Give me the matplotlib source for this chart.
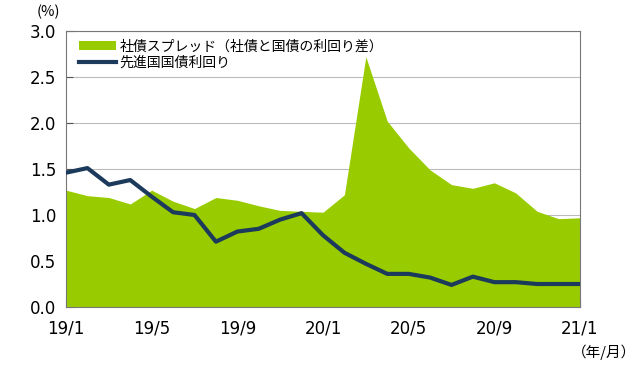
import matplotlib
matplotlib.use("Agg")
import matplotlib.pyplot as plt
import numpy as np

plt.rcParams['font.family'] = ['Noto Sans CJK JP', 'DejaVu Sans']

months = np.arange(25)
tick_pos = [0, 4, 8, 12, 16, 20, 24]
tick_labels = ['19/1', '19/5', '19/9', '20/1', '20/5', '20/9', '21/1']

spread = [1.27, 1.21, 1.19, 1.12, 1.27, 1.15, 1.07, 1.19, 1.16, 1.10, 1.05, 1.04, 1.03,
          1.22, 2.72, 2.02, 1.73, 1.49, 1.33, 1.29, 1.35, 1.24, 1.04, 0.96, 0.97]
yields = [1.46, 1.51, 1.33, 1.38, 1.20, 1.03, 1.00, 0.71, 0.82, 0.85, 0.95, 1.02, 0.78,
          0.59, 0.47, 0.36, 0.36, 0.32, 0.24, 0.33, 0.27, 0.27, 0.25, 0.25, 0.25]

fig = plt.figure(figsize=(6.4, 3.68), dpi=100)
ax = fig.add_axes([66 / 640, 1 - 307 / 368, 514 / 640, 276 / 368])

ax.fill_between(months, spread, 0, color='#99cc00', lw=0,
                label='社債スプレッド（社債と国債の利回り差）', zorder=2)
ax.plot(months, yields, color='#1b3a5c', lw=3, label='先進国国債利回り', zorder=3)

ax.set_xlim(0, 24)
ax.set_ylim(0, 3.0)
yt = np.arange(0, 3.01, 0.5)
ax.set_yticks(yt)
ax.set_yticklabels([f'{v:.1f}' for v in yt], fontsize=12, family='DejaVu Sans')
ax.set_xticks(tick_pos)
ax.set_xticklabels(tick_labels, fontsize=12, family='DejaVu Sans')
ax.tick_params(axis='y', direction='in', length=5, color='#555555', pad=7)
ax.tick_params(axis='x', direction='in', length=5, color='#555555', pad=9)
ax.grid(axis='y', color='#bbbbbb', lw=0.8, zorder=1)
for s in ax.spines.values():
    s.set_color('#777777')
    s.set_linewidth(0.8)

ax.legend(loc='upper left', frameon=False, fontsize=10, handlelength=2.6,
          handletextpad=0.3, labelspacing=0.15, borderaxespad=0.2,
          bbox_to_anchor=(0.01, 1.0))

fig.text(48 / 640, 1 - 12 / 368, '(%)', fontsize=10.5, ha='center', va='center')
fig.text(636 / 640, 1 - 352 / 368, '（年/月）', fontsize=10.5, ha='right', va='center')

fig.savefig('out.png', dpi=100)
